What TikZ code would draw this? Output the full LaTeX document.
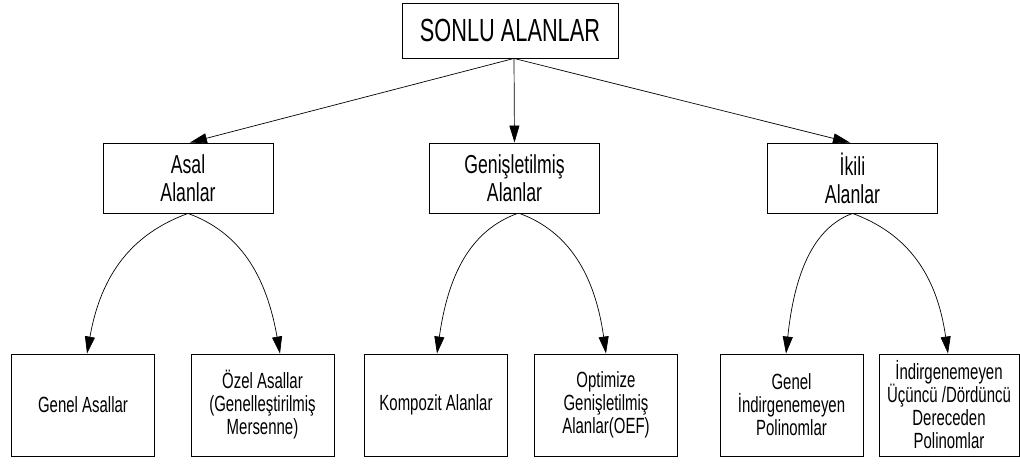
\documentclass[tikz,border=0pt]{standalone}
\usepackage{fontspec}
\setmainfont{Liberation Sans}[FakeStretch=0.68]
\usetikzlibrary{arrows.meta}
\begin{document}
\begin{tikzpicture}[x=1pt,y=1pt,
  box/.style={draw=black,line width=0.9pt,align=center,inner sep=0pt,anchor=center},
  topbox/.style={box,minimum width=216pt,minimum height=55pt,font=\fontsize{32}{36}\selectfont},
  midbox/.style={box,minimum width=170pt,minimum height=70pt,font=\fontsize{26}{28}\selectfont},
  leafbox/.style={box,minimum width=143pt,minimum height=102pt,font=\fontsize{22}{23}\selectfont},
  link/.style={draw=black,line width=0.7pt,-{Triangle[length=17pt,width=10pt]}}]
\useasboundingbox (0,0) rectangle (1020,465);

% root
\node[topbox] (root) at (510,434.5) {SONLU ALANLAR};

% second level
\node[midbox] (asal)  at (188,287)   {Asal\\Alanlar};
\node[midbox] (gen)   at (514.5,287) {Genişletilmiş\\Alanlar};
\node[midbox] (ikili) at (852.5,287) {İkili\\Alanlar};

% leaves
\node[leafbox] (genas)  at (83,60)    {Genel Asallar};
\node[leafbox] (ozel)   at (262.5,60) {Özel Asallar\\(Genelleştirilmiş\\Mersenne)};
\node[leafbox] (komp)   at (436,60)   {Kompozit Alanlar};
\node[leafbox] (opt)    at (606,60)   {Optimize\\Genişletilmiş\\Alanlar(OEF)};
\node[leafbox] (genind) at (791.5,60) {Genel\\İndirgenemeyen\\Polinomlar};
\node[leafbox,minimum width=140pt] (ucd) at (949,60) {İndirgenemeyen\\Üçüncü /Dördüncü\\Dereceden\\Polinomlar};

% root to second level
\coordinate (hub) at ([xshift=4pt]root.south);
\draw[link] (hub) -- ([xshift=2pt]asal.north);
\draw[link] (hub) -- (gen.north);
\draw[link] (hub) -- ([xshift=-2.5pt]ikili.north);

% second level to leaves
\draw[link] (asal.south) .. controls +(200:60) and +(80:80) .. ([xshift=4pt]genas.north);
\draw[link] (asal.south) .. controls +(-20:55) and +(100:80) .. ([xshift=17.5pt]ozel.north);
\draw[link] ([xshift=3pt]gen.south) .. controls +(200:50) and +(82:80) .. ([xshift=1pt]komp.north);
\draw[link] ([xshift=5pt]gen.south) .. controls +(-20:52) and +(98:80) .. (opt.north);
\draw[link] (ikili.south) .. controls +(200:42) and +(84:80) .. ([xshift=-5.5pt]genind.north);
\draw[link] (ikili.south) .. controls +(-20:58) and +(98:80) .. ([xshift=-1pt]ucd.north);
\end{tikzpicture}
\end{document}
